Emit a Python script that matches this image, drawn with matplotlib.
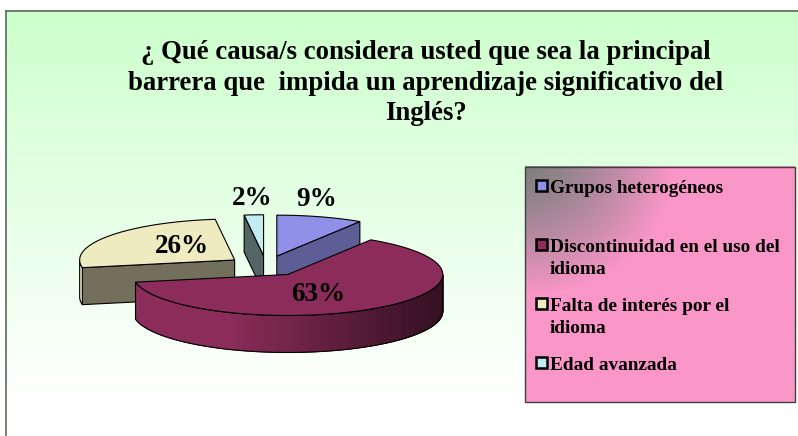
import numpy as np
import matplotlib
matplotlib.use("Agg")
import matplotlib.pyplot as plt
from matplotlib.patches import Polygon, Rectangle
from matplotlib.colors import to_rgb

# ---------------- data ----------------
title_lines = ["¿ Qué causa/s considera usted que sea la principal",
               "barrera que  impida un aprendizaje significativo del",
               "Inglés?"]
categories = ["Grupos heterogéneos",
              "Discontinuidad en el uso del\nidioma",
              "Falta de interés por el\nidioma",
              "Edad avanzada"]
values = [9, 63, 26, 2]
labels = ["9%", "63%", "26%", "2%"]
colors = ["#9090E8", "#8C2C5A", "#EEEBC0", "#C2ECF0"]

# ---------------- style / layout ----------------
FONT = "Liberation Serif"
W, H = 798, 436
fig = plt.figure(figsize=(W / 100, H / 100), dpi=100)
ax = fig.add_axes([0, 0, 1, 1])

# chart area background gradient (light green -> white)
rows = np.linspace(11, 436, 300)
t = np.clip((rows - 11) / (400 - 11), 0, 1)[:, None]
top_c = np.array([204, 255, 204]) / 255
grad = top_c * (1 - t) + np.ones(3) * t
grad = np.repeat(grad[:, None, :], 2, axis=1)
ax.imshow(grad, extent=[6, 798, 436, 11], aspect="auto", zorder=0,
          interpolation="bilinear")
ax.plot([6, 6], [436, 11], color="#5a6a5a", lw=1.2, zorder=1)
ax.plot([6, 798], [11, 11], color="#5a6a5a", lw=1.2, zorder=1)

# title
title_base = [59, 89.5, 120]
for line, yb in zip(title_lines, title_base):
    ax.text(426, yb, line, ha="center", va="baseline", fontsize=19.3,
            fontweight="bold", family=FONT, color="black", zorder=10)

# ---------------- 3D exploded pie ----------------
cx, cy = 266, 266
rx, ry, depth = 155, 41, 37
explode = 0.25
# label placement factors (horizontal, vertical) relative to slice mid-angle
label_f = [(0.92, 1.45), (0.35, 0.58), (0.42, 0.54), (1.19, 1.39)]

total = float(sum(values))
slices = []
cum = 0.0
for v, c, lab, lf in zip(values, colors, labels, label_f):
    t1 = 90 - cum / total * 360
    t2 = t1 - v / total * 360
    cum += v
    mid = 0.5 * (t1 + t2)
    m = np.radians(mid)
    ox = cx + explode * rx * np.cos(m)
    oy = cy - explode * ry * np.sin(m)
    slices.append(dict(t1=t1, t2=t2, mid=mid, ox=ox, oy=oy,
                       color=np.array(to_rgb(c)), label=lab, lf=lf))


def pt(s, r, th_deg, dz=0.0):
    th = np.radians(th_deg)
    return (s["ox"] + r * rx * np.cos(th), s["oy"] - r * ry * np.sin(th) + dz)


order = sorted(range(len(slices)), key=lambda i: -np.sin(np.radians(slices[i]["mid"])))
z = 2
EDGE = dict(edgecolor="black", linewidth=0.8)
for i in order:
    s = slices[i]
    base = s["color"]
    # radial cut faces
    for th, visible, nx in [(s["t1"], np.cos(np.radians(s["t1"])) < -1e-6, -np.sin(np.radians(s["t1"]))),
                            (s["t2"], np.cos(np.radians(s["t2"])) > 1e-6, np.sin(np.radians(s["t2"])))]:
        if not visible:
            continue
        f = 0.43 + 0.26 * max(0.0, nx)
        quad = [pt(s, 0, th), pt(s, 1, th), pt(s, 1, th, depth), pt(s, 0, th, depth)]
        ax.add_patch(Polygon(quad, closed=True, facecolor=base * f, zorder=z, **EDGE))
        z += 1
    # outer side (front part only)
    ths = np.linspace(s["t2"], s["t1"], 600)
    front = np.sin(np.radians(ths)) < 0
    if front.any():
        idx = np.where(front)[0]
        segs = np.split(idx, np.where(np.diff(idx) != 1)[0] + 1)
        for seg in segs:
            a = ths[seg]
            for k in range(len(a) - 1):
                am = 0.5 * (a[k] + a[k + 1])
                f = np.clip(0.82 - 0.45 * np.cos(np.radians(am)), 0, 1)
                q = [pt(s, 1, a[k]), pt(s, 1, a[k + 1]),
                     pt(s, 1, a[k + 1], depth), pt(s, 1, a[k], depth)]
                col = base * f
                ax.add_patch(Polygon(q, closed=True, facecolor=col, edgecolor=col,
                                     linewidth=0.6, zorder=z))
            outline = [pt(s, 1, th) for th in a] + [pt(s, 1, th, depth) for th in a[::-1]]
            ax.add_patch(Polygon(outline, closed=True, facecolor="none", zorder=z + 0.5, **EDGE))
        z += 1
    # top face
    arc = [pt(s, 1, th) for th in np.linspace(s["t2"], s["t1"], 300)]
    ax.add_patch(Polygon([pt(s, 0, 0)] + arc, closed=True, facecolor=base, zorder=z, **EDGE))
    z += 1

for s in slices:
    m = np.radians(s["mid"])
    x = s["ox"] + s["lf"][0] * rx * np.cos(m)
    y = s["oy"] - s["lf"][1] * ry * np.sin(m)
    ax.text(x, y, s["label"], ha="center", va="center", fontsize=19.5,
            fontweight="bold", family=FONT, color="black", zorder=50)

# ---------------- legend ----------------
lx0, ly0, lx1, ly1 = 525, 167, 795, 402
yy, xx = np.mgrid[0:1:200j, 0:1:300j]
d = np.sqrt(xx ** 2 + yy ** 2)
tt = np.clip(d / 0.55, 0, 1) ** 1.3
gray = np.array([128, 128, 128]) / 255
pink = np.array([250, 150, 200]) / 255
lg = gray * (1 - tt[..., None]) + pink * tt[..., None]
ax.imshow(lg, extent=[lx0, lx1, ly1, ly0], aspect="auto", zorder=60,
          interpolation="bilinear")
ax.add_patch(Rectangle((lx0, ly0), lx1 - lx0, ly1 - ly0, facecolor="none",
                       edgecolor="#404040", linewidth=1.0, zorder=61))

marker_y0, marker_step = 185.5, 59
for k, (cat, col) in enumerate(zip(categories, colors)):
    my = marker_y0 + k * marker_step
    ax.add_patch(Rectangle((535.5, my - 5.5), 11, 11, facecolor=col,
                           edgecolor="black", linewidth=1.8, zorder=62))
    for j, line in enumerate(cat.split("\n")):
        ax.text(550, my + 7.5 + j * 22, line, ha="left", va="baseline",
                fontsize=13.9, fontweight="bold", family=FONT, color="black",
                zorder=63)

ax.set_xlim(0, W)
ax.set_ylim(H, 0)
ax.axis("off")
fig.savefig("out.png", dpi=100, facecolor="white")
